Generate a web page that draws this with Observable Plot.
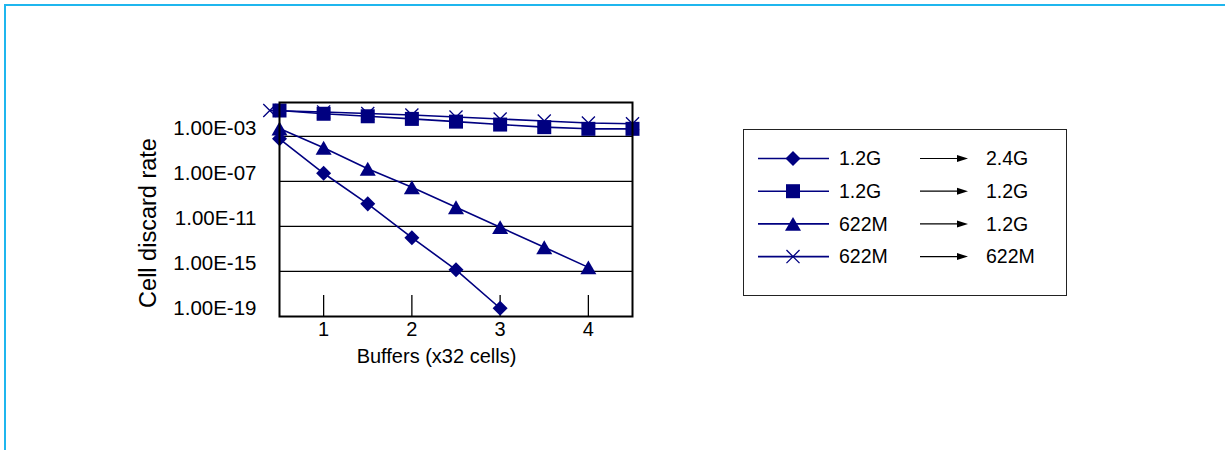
<!DOCTYPE html>
<html><head><meta charset="utf-8">
<script src="https://cdn.jsdelivr.net/npm/d3@7"></script>
<script src="https://cdn.jsdelivr.net/npm/@observablehq/plot@0.6"></script>
<style>
html,body{margin:0;padding:0;background:#fff;overflow:hidden}
#wrap{position:relative;width:1225px;height:450px;font-family:"Liberation Sans",Arial,sans-serif;overflow:hidden}
#border{position:absolute;left:4px;top:4px;width:1400px;height:600px;border-top:2px solid #1fb6ee;border-left:2px solid #1fb6ee}
#chart{position:absolute;left:0;top:0}
#legend{position:absolute;left:743px;top:129px}
</style></head><body>
<div id="wrap"><div id="border"></div><div id="chart"></div><div id="legend"></div></div>
<script>
// ---- data ----
const buffers = [0.5, 1, 1.5, 2, 2.5, 3, 3.5, 4, 4.5];
const buffers622to622 = [0.39, 1, 1.5, 2, 2.5, 3, 3.5, 4, 4.5];
const rate12to24 = [6.0e-4, 5.2e-7, 1.0e-9, 1.0e-12, 1.4e-15, 5.4e-19];
const rate12to12 = [0.195, 0.10, 0.060, 0.035, 0.020, 0.011, 0.0065, 0.0046, 0.0046];
const rate622to12 = [4.9e-3, 9.5e-5, 1.3e-6, 3.0e-8, 5.0e-10, 8.5e-12, 1.4e-13, 2.3e-15];
const rate622to622 = [0.195, 0.145, 0.105, 0.078, 0.051, 0.034, 0.023, 0.015, 0.013];
const fromLabels = ["1.2G", "1.2G", "622M", "622M"];
const toLabels = ["2.4G", "1.2G", "1.2G", "622M"];
const yTicks = [1e-3, 1e-7, 1e-11, 1e-15, 1e-19];
const yTickLabels = ["1.00E-03", "1.00E-07", "1.00E-11", "1.00E-15", "1.00E-19"];
const yGrid = [1e-3, 1e-7, 1e-11, 1e-15];
const xTicks = [1, 2, 3, 4];
const xTickLabels = ["1", "2", "3", "4"];
const xTitle = "Buffers (x32 cells)";
const yTitle = "Cell discard rate";

const navy = "#000080";
const toRows = (xs, ys, s) => ys.map((v, i) => ({x: xs[i], y: v, s}));
const d1 = toRows(buffers, rate12to24, "a");
const d2 = toRows(buffers, rate12to12, "b");
const d3s = toRows(buffers, rate622to12, "c");
const d4 = toRows(buffers622to622, rate622to622, "d");
const all = [...d4, ...d1, ...d3s, ...d2];

const chart = Plot.plot({
  width: 1225, height: 450,
  marginLeft: 279, marginRight: 593, marginTop: 102, marginBottom: 134,
  style: {fontFamily: "Liberation Sans, Arial, sans-serif", fontSize: "19px", color: "#000", background: "transparent", overflow: "visible"},
  x: {domain: [0.5, 4.5]},
  y: {type: "log", domain: [1e-19, 1]},
  marks: [
    Plot.ruleY(yGrid, {stroke: "#000", strokeWidth: 1.3}),
    Plot.ruleX(xTicks, {y1: 1e-19, y2: 1e-19, insetTop: -21, stroke: "#000", strokeWidth: 1.3}),
    Plot.axisY({ticks: yTicks, tickFormat: (d) => yTickLabels[yTicks.indexOf(d)], tickSize: 0, tickPadding: 23, dy: -8, fontSize: 20.5, label: null}),
    Plot.axisX({ticks: xTicks, tickFormat: (d) => xTickLabels[xTicks.indexOf(d)], tickSize: 0, tickPadding: 5, fontSize: 20, label: null}),
    Plot.line(all, {x: "x", y: "y", z: "s", stroke: navy, strokeWidth: 1.6}),
    Plot.dot(d4, {x: "x", y: "y", symbol: "times", r: 6, stroke: navy, strokeWidth: 1.3}),
    Plot.dot(d1, {x: "x", y: "y", symbol: "square", rotate: 45, r: 6, fill: navy}),
    Plot.dot(d3s, {x: "x", y: "y", symbol: "triangle", r: 5.94, fill: navy, dy: 2.3}),
    Plot.dot(d2, {x: "x", y: "y", symbol: "square", r: 7.9, fill: navy}),
    Plot.frame({stroke: "#000", strokeWidth: 2}),
    Plot.text([xTitle], {frameAnchor: "bottom", dx: -19.5, dy: 46, fontSize: 20}),
    Plot.text([yTitle], {frameAnchor: "left", textAnchor: "middle", rotate: -90, dx: -131, dy: 13.5, fontSize: 23.5})
  ]
});
document.getElementById("chart").appendChild(chart);

// ---- legend ----
const symbols = [
  {type: d3.symbolSquare, r: 6, rotate: 45, fill: navy, stroke: "none"},
  {type: d3.symbolSquare, r: 7.9, rotate: 0, fill: navy, stroke: "none"},
  {type: d3.symbolTriangle, r: 5.94, rotate: 0, fill: navy, stroke: "none", dy: 2.3},
  {type: d3.symbolTimes, r: 6, rotate: 0, fill: "none", stroke: navy}
];
const lw = 326, lh = 168;
const svg = d3.select("#legend").append("svg").attr("width", lw).attr("height", lh)
  .style("font-family", "Liberation Sans, Arial, sans-serif").style("font-size", "19.5px");
svg.append("rect").attr("x", 0.5).attr("y", 0.5).attr("width", lw - 3).attr("height", lh - 2)
  .attr("fill", "#fff").attr("stroke", "#222").attr("stroke-width", 1);
fromLabels.forEach((f, i) => {
  const y = 29.5 + i * 32.7;
  const g = svg.append("g");
  g.append("line").attr("x1", 15).attr("x2", 86).attr("y1", y).attr("y2", y).attr("stroke", navy).attr("stroke-width", 1.6);
  const s = symbols[i];
  g.append("path").attr("d", d3.symbol(s.type, s.r * s.r * Math.PI)())
    .attr("transform", `translate(50,${y + (s.dy || 0)}) rotate(${s.rotate})`)
    .attr("fill", s.fill).attr("stroke", s.stroke).attr("stroke-width", 1.3);
  g.append("text").attr("x", 96).attr("y", y).attr("dy", "0.35em").text(f);
  g.append("line").attr("x1", 177).attr("x2", 217).attr("y1", y).attr("y2", y).attr("stroke", "#000").attr("stroke-width", 1.2);
  g.append("path").attr("d", `M225,${y}L214,${y - 3.5}L214,${y + 3.5}Z`).attr("fill", "#000");
  g.append("text").attr("x", 243).attr("y", y).attr("dy", "0.35em").text(toLabels[i]);
});
</script>
</body></html>
